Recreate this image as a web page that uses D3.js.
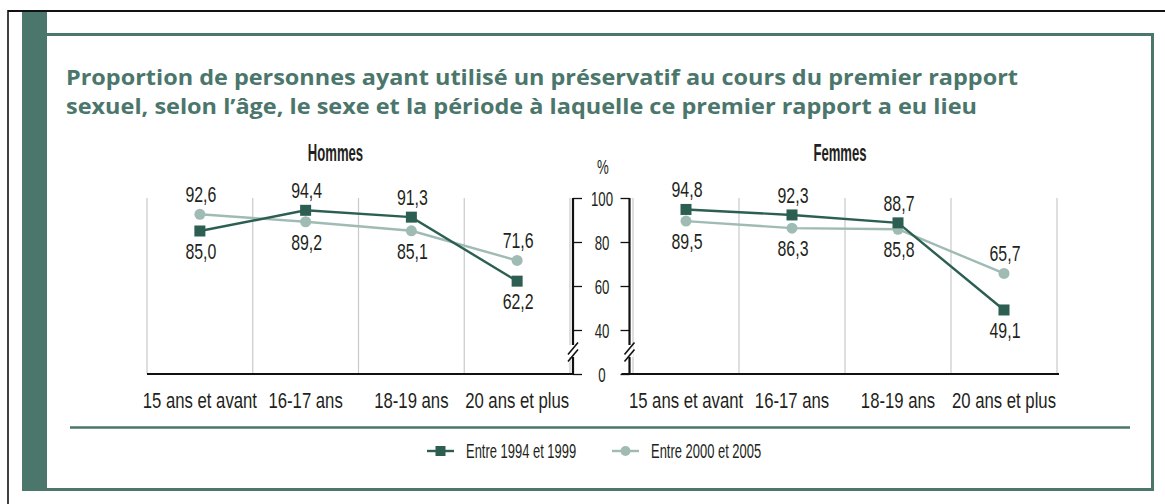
<!DOCTYPE html>
<html>
<head>
<meta charset="utf-8">
<script src="https://cdn.jsdelivr.net/npm/d3@7"></script>
<style>
  html, body { margin: 0; padding: 0; background: #fff; }
  svg { display: block; }
</style>
</head>
<body>
<svg id="chart" width="1165" height="504"></svg>
<script>
const titleLines = [
  "Proportion de personnes ayant utilisé un préservatif au cours du premier rapport",
  "sexuel, selon l’âge, le sexe et la période à laquelle ce premier rapport a eu lieu"
];
const categories = ["15 ans et avant", "16-17 ans", "18-19 ans", "20 ans et plus"];
const panels = ["Hommes", "Femmes"];
const seriesNames = ["Entre 1994 et 1999", "Entre 2000 et 2005"];
const hommes1994 = [85.0, 94.4, 91.3, 62.2];
const hommes2000 = [92.6, 89.2, 85.1, 71.6];
const femmes1994 = [94.8, 92.3, 88.7, 49.1];
const femmes2000 = [89.5, 86.3, 85.8, 65.7];
const yTickValues = [20, 40, 60, 80, 100];
const yTickLabels = ["0", "40", "60", "80", "100"];

const GREEN = "#4b766b";
const DARK = "#2c5f52";
const LIGHT = "#9fbbb3";
const GRID = "#c9c9c9";
const TXT = "#231f20";
const FONT = "'Liberation Sans', Arial, sans-serif";
const fmt = v => v.toFixed(1).replace(".", ",");

const svg = d3.select("#chart");

// condensed text helper: horizontal compression via transform
function ctext(parent, data, xf, yf, size, sx, opts = {}) {
  return parent.selectAll(null).data(data).join("text")
    .attr("transform", (d, i) => `translate(${xf(d, i)},${yf(d, i)}) scale(${sx},1)`)
    .attr("font-family", FONT)
    .attr("font-size", size)
    .attr("font-weight", opts.weight || 400)
    .attr("text-anchor", opts.anchor || "middle")
    .attr("fill", TXT)
    .text(opts.text || (d => d));
}

// Frames
svg.append("line").attr("x1", 8).attr("x2", 1165).attr("y1", 11).attr("y2", 11).attr("stroke", "#111").attr("stroke-width", 2);
svg.append("line").attr("x1", 8).attr("x2", 8).attr("y1", 10).attr("y2", 504).attr("stroke", "#111").attr("stroke-width", 1.6);
svg.append("rect").attr("x", 22).attr("y", 12).attr("width", 25).attr("height", 479).attr("fill", GREEN);
svg.append("line").attr("x1", 47).attr("x2", 1154).attr("y1", 34.5).attr("y2", 34.5).attr("stroke", GREEN).attr("stroke-width", 3);
svg.append("line").attr("x1", 1152.5).attr("x2", 1152.5).attr("y1", 33).attr("y2", 491).attr("stroke", GREEN).attr("stroke-width", 3);
svg.append("line").attr("x1", 22).attr("x2", 1154).attr("y1", 489.5).attr("y2", 489.5).attr("stroke", GREEN).attr("stroke-width", 3);

// Title
svg.append("g").selectAll("text").data(titleLines).join("text")
  .attr("x", 66).attr("y", (d, i) => 85 + i * 29)
  .attr("font-family", "'Open Sans', 'DejaVu Sans', sans-serif")
  .attr("font-weight", 700).attr("font-size", 21)
  .attr("fill", GREEN)
  .attr("textLength", (d, i) => i === 0 ? 952 : 911)
  .attr("lengthAdjust", "spacingAndGlyphs")
  .text(d => d);

// Shared y scale
const y = d3.scaleLinear().domain([20, 100]).range([374, 198]);

const panelDefs = [
  { name: panels[0], range: [147, 570], axisX: 573, axisSide: "right", titleX: 335.5, s1: hommes1994, s2: hommes2000 },
  { name: panels[1], range: [633, 1057], axisX: 629.5, axisSide: "left", titleX: 840, s1: femmes1994, s2: femmes2000 }
];

panelDefs.forEach(p => {
  const g = svg.append("g");
  const x = d3.scaleBand().domain(categories).range(p.range).padding(0);
  const cx = c => x(c) + x.bandwidth() / 2;

  // Vertical gridlines (band edges)
  const edges = categories.map(c => x(c)).concat([p.range[1]]);
  g.selectAll(".grid").data(edges).join("line")
    .attr("x1", d => d).attr("x2", d => d)
    .attr("y1", y(100)).attr("y2", y(20))
    .attr("stroke", GRID).attr("stroke-width", 1.2);

  // Baseline
  g.append("line")
    .attr("x1", p.axisSide === "right" ? p.range[0] : p.axisX - 8)
    .attr("x2", p.axisSide === "right" ? p.axisX + 1 : p.range[1] + 2)
    .attr("y1", y(20)).attr("y2", y(20))
    .attr("stroke", "#111").attr("stroke-width", 2.2);

  // Y axis
  const axis = (p.axisSide === "right" ? d3.axisRight(y) : d3.axisLeft(y))
    .tickValues(yTickValues).tickSize(9).tickFormat("");
  const ag = g.append("g").attr("transform", `translate(${p.axisX},0)`).call(axis);
  ag.select(".domain").attr("stroke", "#111").attr("stroke-width", 2.2)
    .attr("d", `M0,${y(100)}V${y(20)}`);
  ag.selectAll(".tick line").attr("stroke", "#111").attr("stroke-width", 1.3);

  // Axis break
  const by = 352;
  g.append("rect").attr("x", p.axisX - 4).attr("y", by - 7).attr("width", 8).attr("height", 12).attr("fill", "#fff");
  [-3.5, 3.5].forEach(off => {
    g.append("line")
      .attr("x1", p.axisX - 5).attr("y1", by + off + 6)
      .attr("x2", p.axisX + 5).attr("y2", by + off - 6)
      .attr("stroke", "#111").attr("stroke-width", 1.6);
  });

  // Panel title
  ctext(g, [p.name], () => p.titleX, () => 161, 23, 0.57, { weight: 700 });

  // Category labels
  ctext(g, categories, d => cx(d), () => 408, 22, 0.76);

  // Lines + markers
  const line = d3.line().x((d, i) => cx(categories[i])).y(d => y(d));
  g.append("path").datum(p.s2).attr("d", line).attr("fill", "none").attr("stroke", LIGHT).attr("stroke-width", 2.4);
  g.append("path").datum(p.s1).attr("d", line).attr("fill", "none").attr("stroke", DARK).attr("stroke-width", 2.4);
  g.selectAll(".c").data(p.s2).join("circle")
    .attr("cx", (d, i) => cx(categories[i])).attr("cy", d => y(d)).attr("r", 5.5).attr("fill", LIGHT);
  g.selectAll(".s").data(p.s1).join("rect")
    .attr("x", (d, i) => cx(categories[i]) - 5.5).attr("y", d => y(d) - 5.5)
    .attr("width", 11).attr("height", 11).attr("fill", DARK);

  // Value labels: higher value above, lower below
  const labels = [];
  p.s1.forEach((v, i) => labels.push({ v, i, above: v >= p.s2[i] }));
  p.s2.forEach((v, i) => labels.push({ v, i, above: v > p.s1[i] }));
  ctext(g, labels, d => cx(categories[d.i]) + 1, d => y(d.v) + (d.above ? -12 : 28), 21.5, 0.74,
    { text: d => fmt(d.v) });
});

// Y tick labels between panels
ctext(svg, yTickValues, () => 602, d => y(d) + 7.5, 21, 0.63, { text: (d, i) => yTickLabels[i] });
ctext(svg, ["%"], () => 603, () => 174, 21, 0.63);

// Legend
svg.append("line").attr("x1", 70).attr("x2", 1130).attr("y1", 427.5).attr("y2", 427.5).attr("stroke", GREEN).attr("stroke-width", 2.5);
const legendX = [427, 612];
const lg = svg.append("g");
seriesNames.forEach((name, i) => {
  const x0 = legendX[i];
  const col = i === 0 ? DARK : LIGHT;
  lg.append("line").attr("x1", x0).attr("x2", x0 + 27).attr("y1", 451).attr("y2", 451).attr("stroke", col).attr("stroke-width", 2.4);
  if (i === 0) {
    lg.append("rect").attr("x", x0 + 13.5 - 5).attr("y", 446).attr("width", 10).attr("height", 10).attr("fill", col);
  } else {
    lg.append("circle").attr("cx", x0 + 13.5).attr("cy", 451).attr("r", 5).attr("fill", col);
  }
});
ctext(lg, seriesNames, (d, i) => legendX[i] + 39, () => 458, 21, 0.617, { anchor: "start" });
</script>
</body>
</html>
